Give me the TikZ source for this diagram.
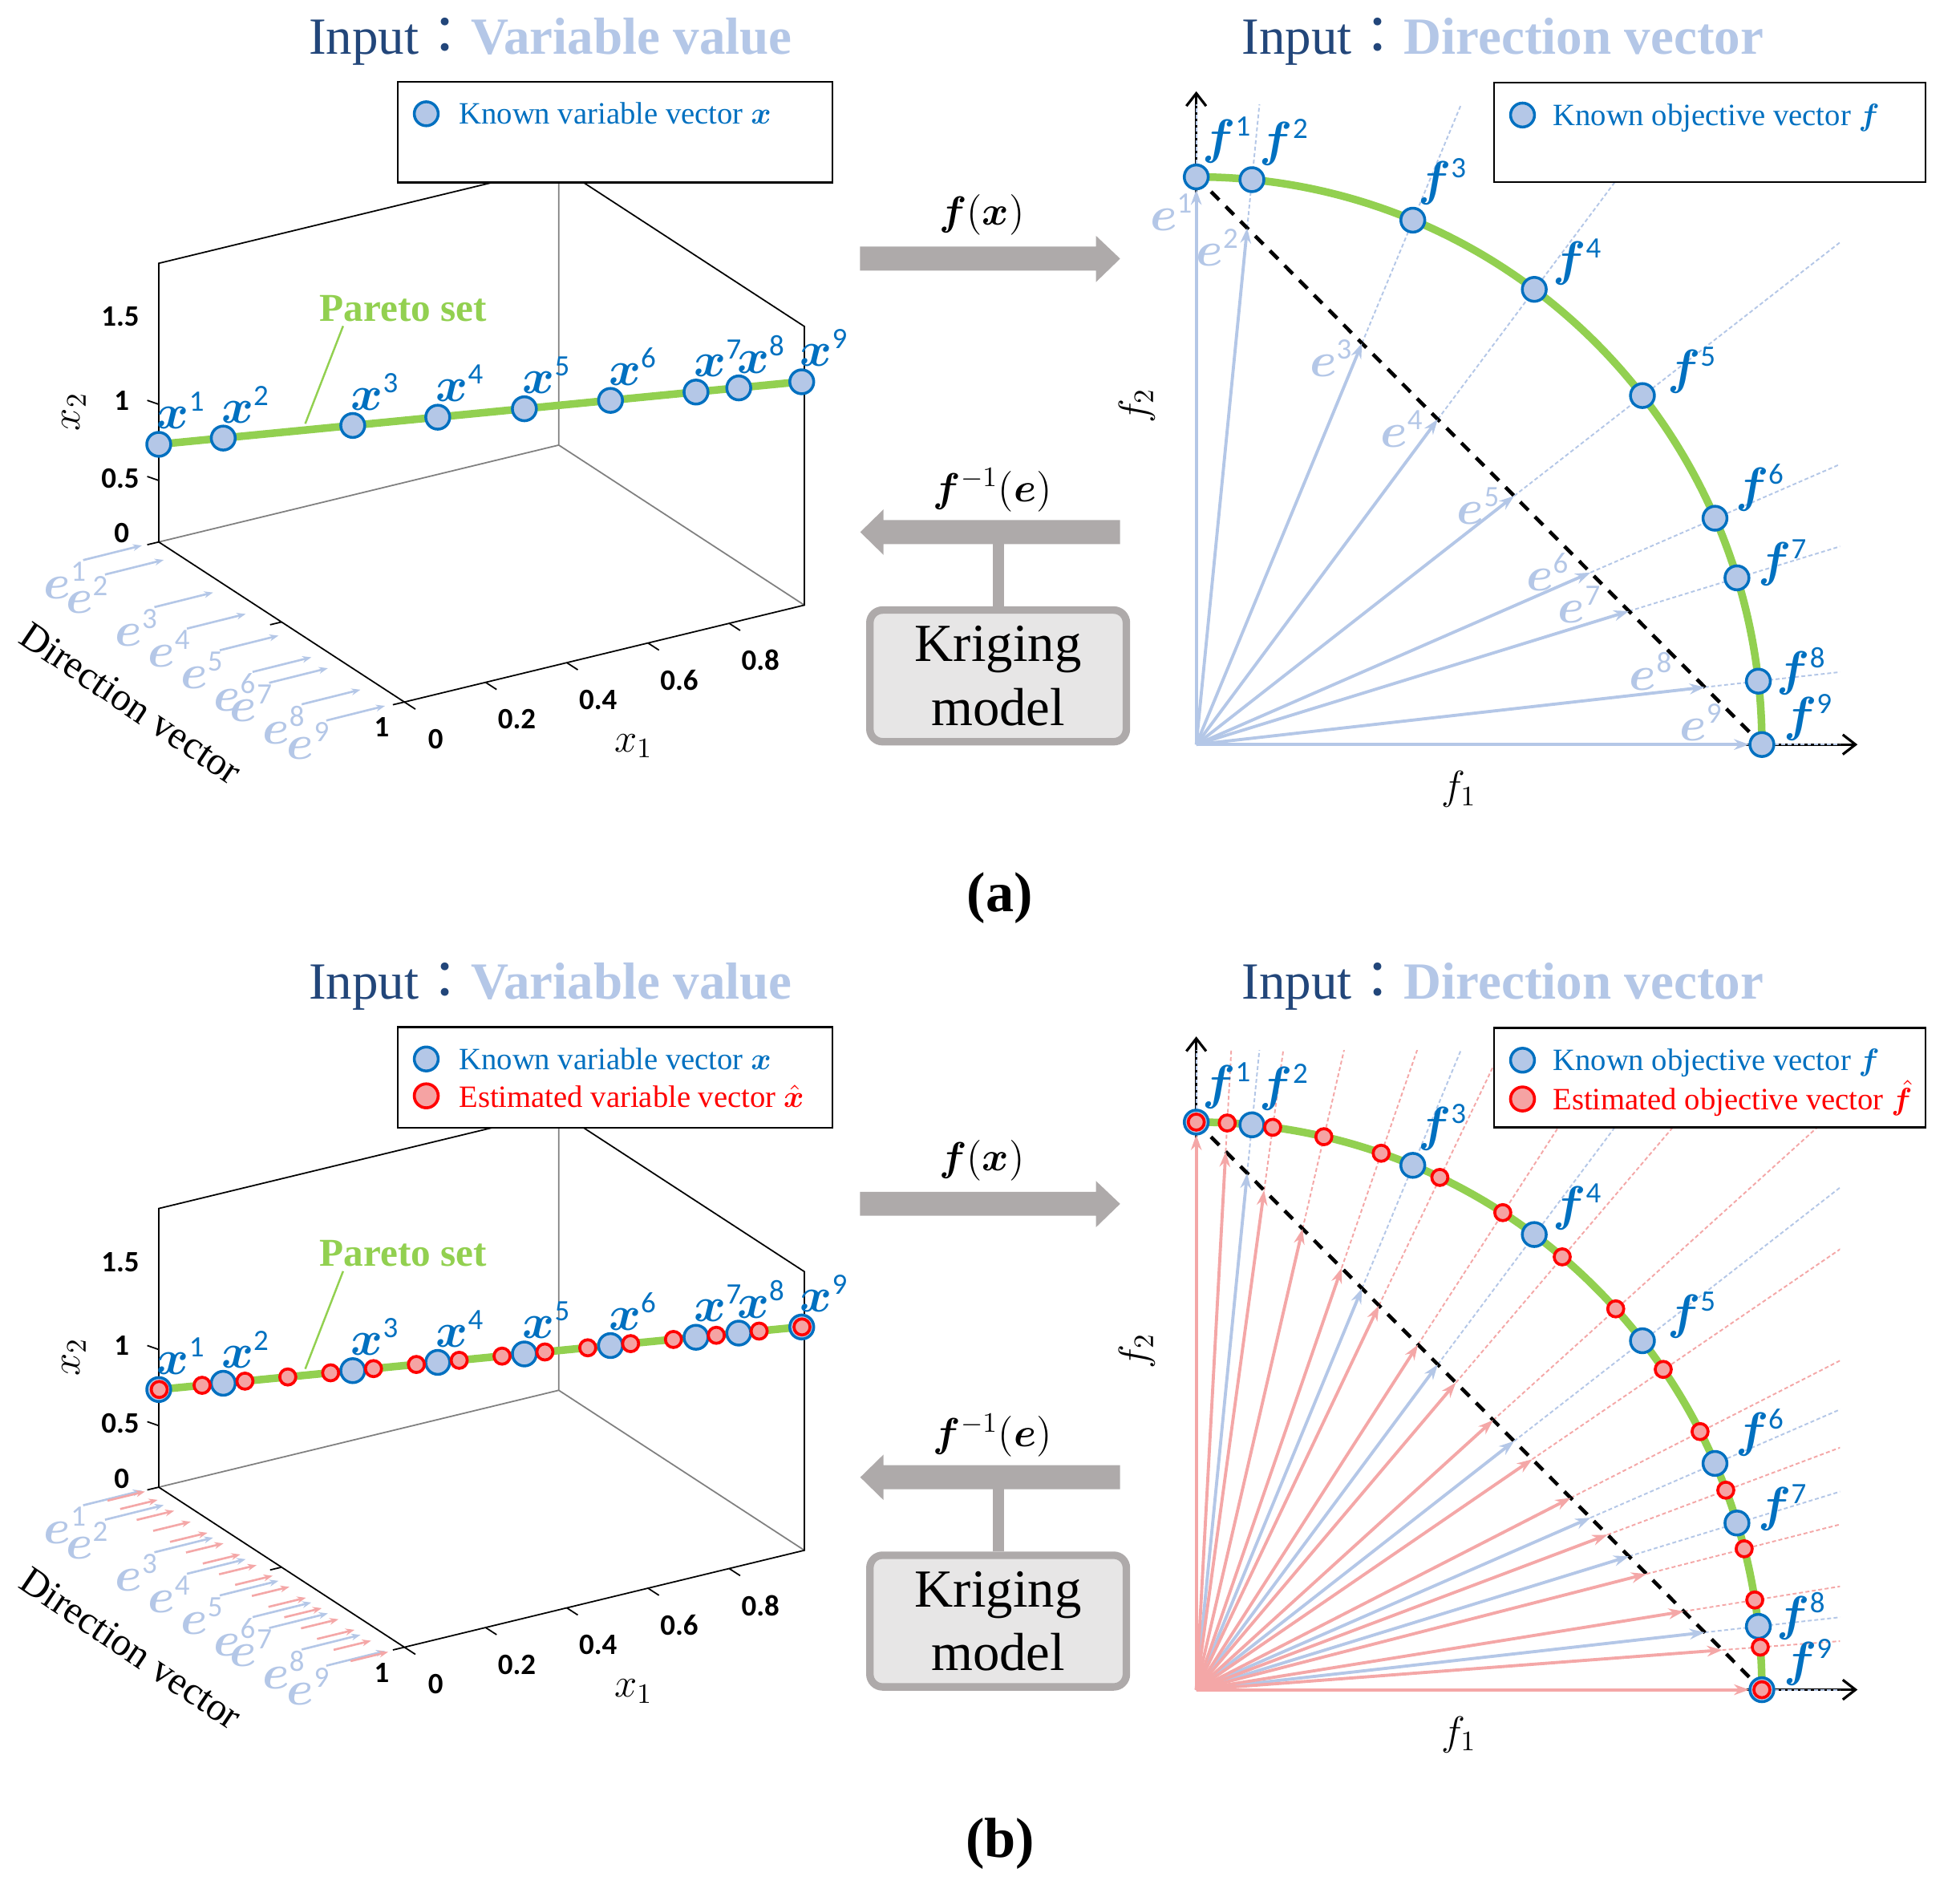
\documentclass[tikz,border=0pt]{standalone}
\usepackage{amsmath}
\usepackage{amssymb}
\usepackage{bm}
\usepackage{fontspec}
\setmainfont{Liberation Serif}
\newfontfamily\calibri{Carlito}
\newfontfamily\cjk{Noto Sans CJK JP}
\usepackage{xcolor}
\usetikzlibrary{arrows.meta,calc}

\definecolor{navy}{HTML}{22467A}
\definecolor{lblue}{HTML}{B4C7E7}
\definecolor{kblue}{HTML}{0070C0}
\definecolor{pgreen}{HTML}{92D050}
\definecolor{epink}{HTML}{F4A7A7}
\definecolor{efill}{HTML}{F5A3A3}
\definecolor{agray}{HTML}{AEAAAA}
\definecolor{bgray}{HTML}{E7E6E6}
\definecolor{axgray}{HTML}{808080}

% label with calibri superscript
\newcommand{\supv}[2]{$\boldsymbol{#1}^{\mbox{\calibri\fontsize{10.5}{10.5}\selectfont #2}}$}
% known and estimated parameters along the simplex
\def\kt{0,0.090,0.293,0.427,0.562,0.697,0.765,0.899,1}
\def\ktin{0.090,0.293,0.427,0.562,0.697,0.765,0.899}
\def\et{0,0.052,0.120,0.188,0.257,0.323,0.392,0.459,0.525,0.594,0.662,0.727,0.796,0.862,0.930,1}
\def\etin{0.052,0.120,0.188,0.257,0.323,0.392,0.459,0.525,0.594,0.662,0.727,0.796,0.862,0.930}

\tikzset{
  known/.style={circle,draw=kblue,fill=lblue,line width=1pt,minimum size=8.5pt,inner sep=0pt},
  estim/.style={circle,draw=red,fill=efill,line width=1.05pt,minimum size=5.7pt,inner sep=0pt},
  estimleg/.style={estim,minimum size=8.5pt},
  ptlabel/.style={text=kblue,font=\fontsize{16.5}{16.5}\selectfont,inner sep=0pt},
  elabel/.style={text=lblue,font=\fontsize{16}{16}\selectfont,inner sep=0pt},
  ticklab/.style={font=\calibri\bfseries\fontsize{10.5}{10.5}\selectfont,inner sep=0pt},
  axlab/.style={font=\fontsize{14}{14}\selectfont,inner sep=0pt},
  titlelab/.style={font=\fontsize{18.5}{20}\selectfont,inner sep=0pt,anchor=base west},
  legtext/.style={font=\fontsize{11}{11}\selectfont,inner sep=0pt,anchor=base west},
  legbox/.style={draw=black,line width=0.65pt,fill=white},
  boxline/.style={black,line width=0.5pt},
  backline/.style={axgray,line width=0.5pt},
  pset/.style={pgreen,line width=2.7pt},
  pointer/.style={pgreen,line width=0.7pt},
  fxaxis/.style={black,line width=0.9pt,-{Straight Barb[length=4.5pt,width=7pt]}},
  diagline/.style={black,line width=1.3pt,dash pattern=on 4.1pt off 3.3pt},
  bluearr/.style={lblue,line width=1.1pt,-{Stealth[length=5.4pt,width=3.8pt]}},
  redarr/.style={epink,line width=1.1pt,-{Stealth[length=5.4pt,width=3.8pt]}},
  smallblue/.style={lblue,line width=0.75pt,-{Stealth[length=3.2pt,width=2.4pt]}},
  smallred/.style={epink,line width=0.75pt,-{Stealth[length=3.2pt,width=2.4pt]}},
  bluedash/.style={lblue,line width=0.55pt,dash pattern=on 1.4pt off 0.9pt},
  reddash/.style={epink,line width=0.55pt,dash pattern=on 1.4pt off 0.9pt},
  krigbox/.style={draw=agray,line width=2.66pt,fill=bgray,rounded corners=4.5pt,minimum width=91pt,minimum height=46.7pt,align=center,font=\fontsize{19}{22.6}\selectfont,inner sep=0pt},
  maplab/.style={font=\fontsize{14.5}{14.5}\selectfont,inner sep=0pt},
  panellab/.style={font=\bfseries\fontsize{20}{20}\selectfont,inner sep=0pt},
}

\begin{document}
\begin{tikzpicture}[x=0.15587mm,y=-0.15587mm]
\useasboundingbox (0,0) rectangle (1568,1517);

%%%%%%%%%%%%%%%% panel (a)
	\node[titlelab] (tla) at (246.6,43) {\textcolor{navy}{Input{\cjk ：}}\textcolor{lblue}{\bfseries Variable value}};
	\node[titlelab] (tra) at (993,43) {\textcolor{navy}{Input{\cjk ：}}\textcolor{lblue}{\bfseries Direction vector}};

	% 3d box
	\coordinate (Aa) at (127,433.5);
	\coordinate (TLa) at (127,210.6);
	\coordinate (Ba) at (447,356);
	\coordinate (TBa) at (447,133.1);
	\coordinate (RBa) at (643.5,484);
	\coordinate (RTa) at (643.5,261.1);
	\coordinate (Ea) at (323.5,561.5);
	\draw[backline] (Aa) -- (Ba) -- (RBa) (Ba) -- (TBa);
	\draw[boxline] (RBa) -- (Ea) -- (Aa) -- (TLa) -- (TBa) -- (RTa) -- cycle;
		\foreach \v/\fr [count=\i] in {0/0,0.2/0.203,0.4/0.406,0.6/0.609,0.8/0.812}{
			\coordinate (ka\i) at ($(Ea)!\fr!(RBa)$);
			\draw[boxline] (ka\i) -- ++(8.8,5.7);
			\node[ticklab] (txa\i) at ($(ka\i)+(25,29.5)$) {\v};
		}
		\draw[boxline] (Aa) -- ++(-9.2,2.2) ($(Aa)!0.5!(Ea)$) -- ++(-9.2,2.2) (Ea) -- ++(-9.2,2.2);
		\draw[boxline] (127,323.4) -- ++(-9.2,-3.2) (127,384.3) -- ++(-9.2,-3.2);
		\node[ticklab] (yaa) at (96.2,253.4) {1.5};
		\node[ticklab] (yba) at (97.3,320.3) {1};
		\node[ticklab] (yca) at (96.2,382.4) {0.5};
		\node[ticklab] (eaa) at (97.3,426.6) {0};
		\node[ticklab] (eba) at (305.4,581.7) {1};
	\node[axlab,rotate=90] (xtwoa) at (59.2,329.3) {$x_2$};
	\node[axlab] (xonea) at (506.8,596.7) {$x_1$};
	\node[axlab,rotate=-34] (dirva) at (104.8,562.4) {Direction vector};

	% pareto set
	\draw[pset] (127,355.4) -- (642,305.2);
	\node[font=\bfseries\fontsize{14}{14}\selectfont,text=pgreen,inner sep=0pt,anchor=base] (para) at (322.7,257) {Pareto set};
	\coordinate (penda) at (244.2,338.9);
	\draw[pointer] ($(para.south west)+(19,3)$) -- (penda);

	% direction vectors
	\foreach \tv [count=\i] in \kt{
		\coordinate (eta\i) at ({113.5+194.5*\tv},{436.3+128.3*\tv});
		\draw[smallblue] ($(eta\i)+(-47,11.7)$) -- (eta\i);
		\node[elabel] (ela\i) at ($(eta\i)+(-61,28)$) {\supv{e}{\i}};
	}

	% variable vectors
	\foreach \px [count=\i] in {127,178.6,282.2,350.2,419.5,488.4,556.8,591,641.4}{
		\pgfmathsetmacro\py{355.4-0.09728*(\px-127)}
		\node[known] (xa\i) at (\px,\py) {};
		\node[ptlabel] (xla\i) at ($(xa\i)+(18,-27)$) {\supv{x}{\i}};
	}

	% legend
	\draw[legbox] (318,65.5) rectangle (666,146);
	\node[known] (lka) at (341,91) {};
	\node[legtext,text=kblue] (lkta) at (366.8,99.4) {Known variable vector $\boldsymbol{x}$};

	% mapping
	\node[maplab] (fxa) at (785.4,172.1) {$\boldsymbol{f}(\boldsymbol{x})$};
	\fill[agray] (688,197.2) -- (876.8,197.2) -- (876.8,188.6) -- (896.1,206.9) -- (876.8,225.6) -- (876.8,216.4) -- (688,216.4) -- cycle;
	\node[maplab] (fia) at (794,392) {$\boldsymbol{f}^{-1}(\boldsymbol{e})$};
	\fill[agray] (896.1,415.9) -- (706.8,415.9) -- (706.8,407.4) -- (688.2,425.6) -- (706.8,443.8) -- (706.8,435.2) -- (896.1,435.2) -- cycle;
	\coordinate (shafta) at (798,430);
	\node[krigbox] (kra) at (798.5,540.6) {Kriging\\model};
	\draw[agray,line width=4pt] (kra.north) -- (kra.north |- shafta);

	% objective space
	\coordinate (Oa) at (957,595.5);
	\draw[fxaxis] (Oa) -- (957,73);
	\draw[fxaxis] (Oa) -- (1486,595.5);
	\node[axlab] (fonea) at (1167,631.5) {$f_1$};
	\node[axlab,rotate=90] (ftwoa) at (909.5,324.5) {$f_2$};
	\begin{scope}
		\clip (950,84) rectangle (1472,602);
		\foreach \tv in \kt{
			\pgfmathsetmacro\nn{sqrt(\tv*\tv+(1-\tv)*(1-\tv))}
			\draw[bluedash] ({957+452.5*\tv},{141.5+454*\tv}) -- ({957+900*\tv/\nn},{595.5-900*(1-\tv)/\nn});
		}
	\end{scope}
	\draw[pset] (957,141.5) arc[start angle=-90,end angle=0,x radius=452.5,y radius=454];
	\draw[diagline] (957,141.5) -- (1409.5,595.5);
	\foreach \tv in \ktin{
		\draw[bluearr] (Oa) -- ({957+452.5*\tv},{141.5+454*\tv});
	}
	\draw[bluearr,shorten >=4.5pt] (Oa) -- (957,141.5);
	\draw[bluearr,shorten >=4.5pt] (Oa) -- (1409.5,595.5);
	\foreach \tv [count=\i] in \kt{
		\pgfmathsetmacro\nn{sqrt(\tv*\tv+(1-\tv)*(1-\tv))}
		\node[known] (fa\i) at ({957+452.5*\tv/\nn},{595.5-454*(1-\tv)/\nn}) {};
	}
	\foreach \i/\lx/\ly in {1/961.5/123,2/1007.4/124.5,3/1133.9/156.4,4/1241.9/220.2,5/1333.4/306.9,6/1387.9/401,7/1406.1/460.9,8/1421/548,9/1426.5/584.5}{
		\node[ptlabel,anchor=base west] (fla\i) at (\lx,\ly) {\supv{f}{\i}};
	}
	\foreach \i/\lx/\ly in {1/937.4/169.8,2/974.3/198.1,3/1065.1/286.5,4/1121.6/342.9,5/1183/404.3,6/1238.3/457.5,7/1263.9/483.3,8/1321/537,9/1360.9/577.8}{
		\node[elabel] (era\i) at (\lx,\ly) {\supv{e}{\i}};
	}
	\draw[legbox] (1195.2,66.2) rectangle (1540.5,145.8);
	\node[known] (rka) at (1218,92) {};
	\node[legtext,text=kblue] (rkta) at (1241.9,100.3) {Known objective vector $\boldsymbol{f}$};

	\node[panellab] (capa) at (800,718.5) {(a)};

%%%%%%%%%%%%%%%% panel (b)
\begin{scope}[shift={(0,756)}]
	\node[titlelab] (tlb) at (246.6,43) {\textcolor{navy}{Input{\cjk ：}}\textcolor{lblue}{\bfseries Variable value}};
	\node[titlelab] (trb) at (993,43) {\textcolor{navy}{Input{\cjk ：}}\textcolor{lblue}{\bfseries Direction vector}};

	% 3d box
	\coordinate (Ab) at (127,433.5);
	\coordinate (TLb) at (127,210.6);
	\coordinate (Bb) at (447,356);
	\coordinate (TBb) at (447,133.1);
	\coordinate (RBb) at (643.5,484);
	\coordinate (RTb) at (643.5,261.1);
	\coordinate (Eb) at (323.5,561.5);
	\draw[backline] (Ab) -- (Bb) -- (RBb) (Bb) -- (TBb);
	\draw[boxline] (RBb) -- (Eb) -- (Ab) -- (TLb) -- (TBb) -- (RTb) -- cycle;
		\foreach \v/\fr [count=\i] in {0/0,0.2/0.203,0.4/0.406,0.6/0.609,0.8/0.812}{
			\coordinate (kb\i) at ($(Eb)!\fr!(RBb)$);
			\draw[boxline] (kb\i) -- ++(8.8,5.7);
			\node[ticklab] (txb\i) at ($(kb\i)+(25,29.5)$) {\v};
		}
		\draw[boxline] (Ab) -- ++(-9.2,2.2) ($(Ab)!0.5!(Eb)$) -- ++(-9.2,2.2) (Eb) -- ++(-9.2,2.2);
		\draw[boxline] (127,323.4) -- ++(-9.2,-3.2) (127,384.3) -- ++(-9.2,-3.2);
		\node[ticklab] (yab) at (96.2,253.4) {1.5};
		\node[ticklab] (ybb) at (97.3,320.3) {1};
		\node[ticklab] (ycb) at (96.2,382.4) {0.5};
		\node[ticklab] (eab) at (97.3,426.6) {0};
		\node[ticklab] (ebb) at (305.4,581.7) {1};
	\node[axlab,rotate=90] (xtwob) at (59.2,329.3) {$x_2$};
	\node[axlab] (xoneb) at (506.8,596.7) {$x_1$};
	\node[axlab,rotate=-34] (dirvb) at (104.8,562.4) {Direction vector};

	% pareto set
	\draw[pset] (127,355.4) -- (642,305.2);
	\node[font=\bfseries\fontsize{14}{14}\selectfont,text=pgreen,inner sep=0pt,anchor=base] (parb) at (322.7,257) {Pareto set};
	\coordinate (pendb) at (244.2,338.9);
	\draw[pointer] ($(parb.south west)+(19,3)$) -- (pendb);

	% direction vectors, known and estimated
	\foreach \tv [count=\i] in \kt{
		\coordinate (etb\i) at ({113.5+194.5*\tv},{436.3+128.3*\tv});
		\draw[smallblue] ($(etb\i)+(-47,11.7)$) -- (etb\i);
		\node[elabel] (elb\i) at ($(etb\i)+(-61,28)$) {\supv{e}{\i}};
	}
	\foreach \tv [count=\i] in \et{
		\coordinate (rtb\i) at ({116+194.5*\tv},{437+128.3*\tv});
		\draw[smallred] ($(rtb\i)+(-30,7.3)$) -- (rtb\i);
	}

	% variable vectors
	\foreach \px [count=\i] in {127,178.6,282.2,350.2,419.5,488.4,556.8,591,641.4}{
		\pgfmathsetmacro\py{355.4-0.09728*(\px-127)}
		\node[known] (xb\i) at (\px,\py) {};
		\node[ptlabel] (xlb\i) at ($(xb\i)+(18,-27)$) {\supv{x}{\i}};
	}
	\foreach \j in {0,...,15}{
		\pgfmathsetmacro\px{127.4+34.28*\j}
		\pgfmathsetmacro\py{355.4-0.09728*(\px-127)}
		\node[estim] (xeb\j) at (\px,\py) {};
	}

	% legend
	\draw[legbox] (318,65.5) rectangle (666,146);
	\node[known] (lkb) at (341,91) {};
	\node[legtext,text=kblue] (lktb) at (366.8,99.4) {Known variable vector $\boldsymbol{x}$};
	\node[estimleg] (leb) at (341,120.5) {};
	\node[legtext,text=red] (lexb) at (366.8,129.4) {Estimated variable vector $\boldsymbol{\hat{x}}$};

	% mapping
	\node[maplab] (fxb) at (785.4,172.1) {$\boldsymbol{f}(\boldsymbol{x})$};
	\fill[agray] (688,197.2) -- (876.8,197.2) -- (876.8,188.6) -- (896.1,206.9) -- (876.8,225.6) -- (876.8,216.4) -- (688,216.4) -- cycle;
	\node[maplab] (fib) at (794,392) {$\boldsymbol{f}^{-1}(\boldsymbol{e})$};
	\fill[agray] (896.1,415.9) -- (706.8,415.9) -- (706.8,407.4) -- (688.2,425.6) -- (706.8,443.8) -- (706.8,435.2) -- (896.1,435.2) -- cycle;
	\coordinate (shaftb) at (798,430);
	\node[krigbox] (krb) at (798.5,540.6) {Kriging\\model};
	\draw[agray,line width=4pt] (krb.north) -- (krb.north |- shaftb);

	% objective space
	\coordinate (Ob) at (957,595.5);
	\draw[fxaxis] (Ob) -- (957,73);
	\draw[fxaxis] (Ob) -- (1486,595.5);
	\node[axlab] (foneb) at (1167,631.5) {$f_1$};
	\node[axlab,rotate=90] (ftwob) at (909.5,324.5) {$f_2$};
	\begin{scope}
		\clip (950,84) rectangle (1472,602);
		\foreach \tv in \kt{
			\pgfmathsetmacro\nn{sqrt(\tv*\tv+(1-\tv)*(1-\tv))}
			\draw[bluedash] ({957+452.5*\tv},{141.5+454*\tv}) -- ({957+900*\tv/\nn},{595.5-900*(1-\tv)/\nn});
		}
		\foreach \tv in \etin{
			\pgfmathsetmacro\nn{sqrt(\tv*\tv+(1-\tv)*(1-\tv))}
			\draw[reddash] ({957+452.5*\tv},{141.5+454*\tv}) -- ({957+900*\tv/\nn},{595.5-900*(1-\tv)/\nn});
		}
	\end{scope}
	\draw[pset] (957,141.5) arc[start angle=-90,end angle=0,x radius=452.5,y radius=454];
	\draw[diagline] (957,141.5) -- (1409.5,595.5);
	\foreach \tv in \ktin{
		\draw[bluearr] (Ob) -- ({957+452.5*\tv},{141.5+454*\tv});
	}
	\foreach \tv in \etin{
		\draw[redarr] (Ob) -- ({957+452.5*\tv},{141.5+454*\tv});
	}
	\draw[redarr,shorten >=4.5pt] (Ob) -- (957,141.5);
	\draw[redarr,shorten >=4.5pt] (Ob) -- (1409.5,595.5);
	\foreach \tv [count=\i] in \kt{
		\pgfmathsetmacro\nn{sqrt(\tv*\tv+(1-\tv)*(1-\tv))}
		\node[known] (fb\i) at ({957+452.5*\tv/\nn},{595.5-454*(1-\tv)/\nn}) {};
	}
	\foreach \tv [count=\i] in \et{
		\pgfmathsetmacro\nn{sqrt(\tv*\tv+(1-\tv)*(1-\tv))}
		\node[estim] (feb\i) at ({957+452.5*\tv/\nn},{595.5-454*(1-\tv)/\nn}) {};
	}
	\foreach \i/\lx/\ly in {1/961.5/123,2/1007.4/124.5,3/1133.9/156.4,4/1241.9/220.2,5/1333.4/306.9,6/1387.9/401,7/1406.1/460.9,8/1421/548,9/1426.5/584.5}{
		\node[ptlabel,anchor=base west] (flb\i) at (\lx,\ly) {\supv{f}{\i}};
	}
	\draw[legbox] (1195.2,66.2) rectangle (1540.5,145.8);
	\node[known] (rkb) at (1218,92) {};
	\node[legtext,text=kblue] (rktb) at (1241.9,100.3) {Known objective vector $\boldsymbol{f}$};
	\node[estimleg] (reb) at (1218,123) {};
	\node[legtext,text=red] (rexb) at (1241.9,131.5) {Estimated objective vector $\boldsymbol{\hat{f}}$};

	\node[panellab] (capb) at (800,718.5) {(b)};
\end{scope}

\end{tikzpicture}
\end{document}
